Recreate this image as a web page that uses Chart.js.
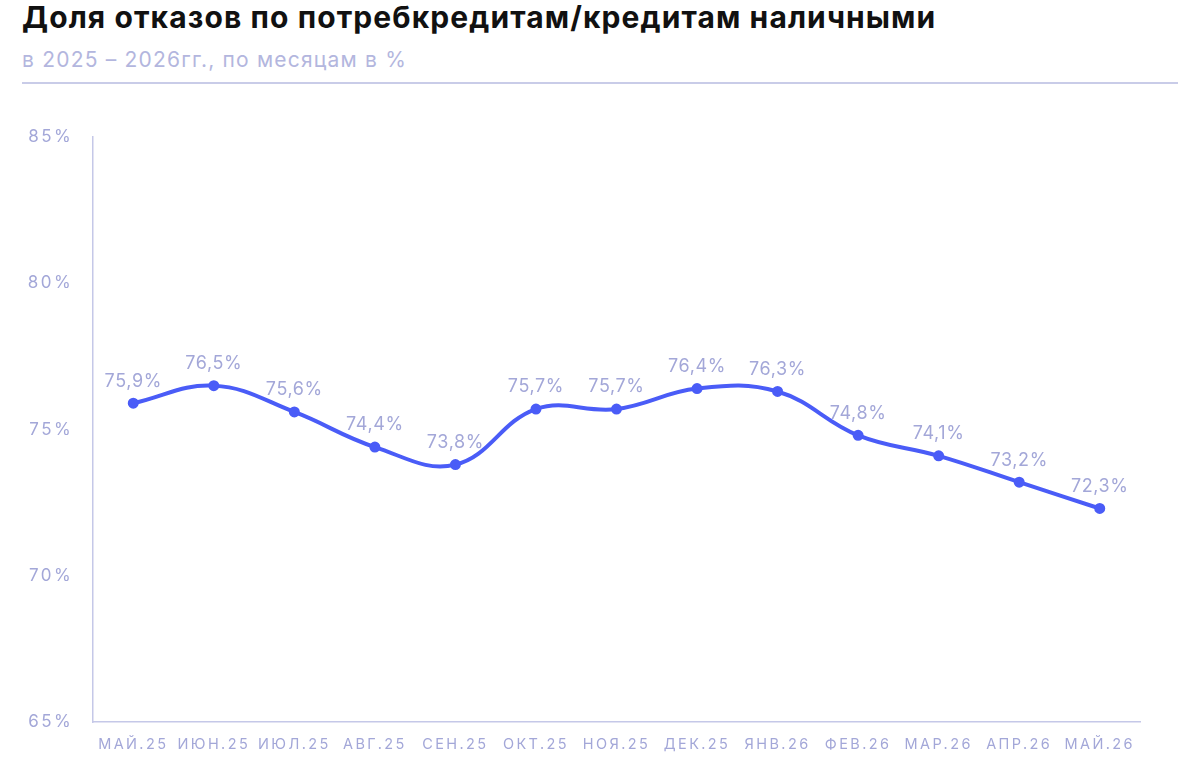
<!DOCTYPE html>
<html lang="ru">
<head>
    <meta charset="UTF-8">
    <title>Доля отказов по потребкредитам</title>
    <script src="https://cdn.jsdelivr.net/npm/chart.js"></script>
    <style>
        body { margin: 0; width: 1200px; height: 780px; background: #fff; font-family: Inter, "DejaVu Sans", sans-serif; position: relative; overflow: hidden; }
        h1 { position: absolute; left: 22px; top: -1px; margin: 0; font-size: 30px; font-weight: 700; color: #111; letter-spacing: 1.1px; }
        .sub { position: absolute; left: 22px; top: 47px; font-size: 21px; color: #b3b6de; letter-spacing: 1.2px; }
        .sep { position: absolute; left: 22px; top: 82px; width: 1156px; height: 2px; background: #c9cce8; }
        .wrap { position: absolute; left: 0; top: 100px; width: 1200px; height: 680px; }
    </style>
</head>
<body>
    <h1>Доля отказов по потребкредитам/кредитам наличными</h1>
    <div class="sub">в 2025 – 2026гг., по месяцам в %</div>
    <div class="sep"></div>
    <div class="wrap"><canvas id="chart"></canvas></div>

    <script>
        const months = ['МАЙ.25', 'ИЮН.25', 'ИЮЛ.25', 'АВГ.25', 'СЕН.25', 'ОКТ.25', 'НОЯ.25',
                        'ДЕК.25', 'ЯНВ.26', 'ФЕВ.26', 'МАР.26', 'АПР.26', 'МАЙ.26'];
        const refusalShare = [75.9, 76.5, 75.6, 74.4, 73.8, 75.7, 75.7, 76.4, 76.3, 74.8, 74.1, 73.2, 72.3];
        const yTicks = [65, 70, 75, 80, 85];

        const axisColor = '#c5c8e8';
        const labelColor = '#a3a7d8';

        // value labels above each point
        const pointLabels = {
            id: 'pointLabels',
            afterDatasetsDraw(chart) {
                const ctx = chart.ctx;
                const meta = chart.getDatasetMeta(0);
                ctx.save();
                ctx.letterSpacing = '0.6px';
                ctx.font = '18px Inter, "DejaVu Sans", sans-serif';
                ctx.fillStyle = labelColor;
                ctx.textAlign = 'center';
                ctx.textBaseline = 'bottom';
                meta.data.forEach((pt, i) => {
                    const txt = refusalShare[i].toFixed(1).replace('.', ',') + '%';
                    ctx.fillText(txt, pt.x, pt.y - 13);
                });
                ctx.restore();
            }
        };

        const spacing = {
            id: 'spacing',
            beforeDraw(chart) { chart.ctx.letterSpacing = '2.4px'; }
        };

        new Chart(document.getElementById('chart'), {
            type: 'line',
            data: {
                labels: months,
                datasets: [{
                    data: refusalShare,
                    borderColor: '#4a5cf7',
                    backgroundColor: '#4a5cf7',
                    borderWidth: 4,
                    pointRadius: 3.5,
                    pointHoverRadius: 3.5,
                    tension: 0.4,
                    fill: false
                }]
            },
            options: {
                responsive: true,
                maintainAspectRatio: false,
                animation: false,
                layout: { padding: { left: 0, right: 60, top: 37, bottom: 0 } },
                plugins: { legend: { display: false }, tooltip: { enabled: false } },
                scales: {
                    x: {
                        offset: true,
                        grid: { display: false, drawTicks: false },
                        border: { color: axisColor, width: 1.5 },
                        ticks: {
                            color: labelColor,
                            font: { size: 14.5, family: 'Inter, "DejaVu Sans", sans-serif' },
                            padding: 14,
                            maxRotation: 0,
                            autoSkip: false
                        },
                        afterFit(s) { s.height = 58; }
                    },
                    y: {
                        min: 65,
                        max: 85,
                        afterBuildTicks(s) { s.ticks = yTicks.map(v => ({ value: v })); },
                        grid: { display: false, drawTicks: false },
                        border: { color: axisColor, width: 1.5 },
                        ticks: {
                            color: labelColor,
                            font: { size: 17, family: 'Inter, "DejaVu Sans", sans-serif' },
                            padding: 20,
                            callback: v => v + '%'
                        },
                        afterFit(s) { s.width = 93; }
                    }
                }
            },
            plugins: [spacing, pointLabels]
        });
    </script>
</body>
</html>
